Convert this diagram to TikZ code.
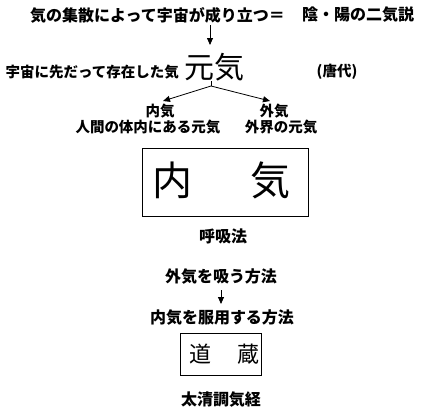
\documentclass[tikz,border=0pt]{standalone}
\usepackage{fontspec}
\newfontfamily\jp{Noto Sans CJK JP}
\usetikzlibrary{arrows.meta}
\tikzset{
  lbl/.style={font=\jp\bfseries\fontsize{14.5pt}{16pt}\selectfont, inner sep=0pt, text=black},
  lblb/.style={font=\jp\bfseries\fontsize{16pt}{18pt}\selectfont, inner sep=0pt, text=black},
  bigchar/.style={font=\jp\fontsize{#1}{#1}\selectfont, inner sep=0pt, text=black},
  arr/.style={line width=0.8pt, -{Triangle[length=7pt,width=6pt]}},
  ln/.style={line width=0.8pt},
  frame/.style={draw=black, line width=0.9pt}
}
\begin{document}
\begin{tikzpicture}[x=1pt,y=-1pt]
\useasboundingbox[fill=white] (0,0) rectangle (424,408);
% title
\node[lblb, anchor=west] (t1) at (30,15) {気の集散によって宇宙が成り立つ＝};
\node[lblb, anchor=west] (t2) at (302,15) {陰・陽の二気説};
\coordinate (a1s) at (210,25);
\coordinate (a1e) at (210,45);
\draw[arr] (a1s) -- (a1e);
% genki
\node[bigchar=30pt] (genki) at (214,67) {元気};
\node[lbl, anchor=east] (before) at (179,72) {宇宙に先だって存在した気};
\node[lbl] (tang) at (337,72) {(唐代)};
\coordinate (b0) at (211,81);
\coordinate (br) at (211,86);
\coordinate (lt) at (163,101);
\coordinate (rt) at (270,101);
\draw[ln] (b0) -- (br);
\draw[arr] (br) -- (lt);
\draw[arr] (br) -- (rt);
\node[lbl] (naiki) at (160,111) {内気};
\node[lbl] (naikid) at (148,127) {人間の体内にある元気};
\node[lbl] (gaiki) at (274,111) {外気};
\node[lbl] (gaikid) at (281,127) {外界の元気};
% box naiki
\node[frame, minimum width=166pt, minimum height=68pt, inner sep=0pt] (box1) at (225,182) {};
\node[bigchar=40pt] (nai) at (172,180) {内};
\node[bigchar=40pt] (ki) at (270,180) {気};
\node[lblb] (kokyu) at (223,236) {呼吸法};
\node[lblb] (gaikisu) at (221,277) {外気を吸う方法};
\coordinate (a2s) at (221,290);
\coordinate (a2e) at (221,304);
\draw[arr] (a2s) -- (a2e);
\node[lblb] (fukuyo) at (222,318) {内気を服用する方法};
\node[frame, minimum width=81pt, minimum height=42pt, inner sep=0pt] (box2) at (220.5,354) {};
\node[bigchar=22pt] (do) at (200,354) {道};
\node[bigchar=22pt] (zo) at (248,354) {蔵};
\node[lblb] (taisei) at (221,400) {太清調気経};
\end{tikzpicture}
\end{document}
